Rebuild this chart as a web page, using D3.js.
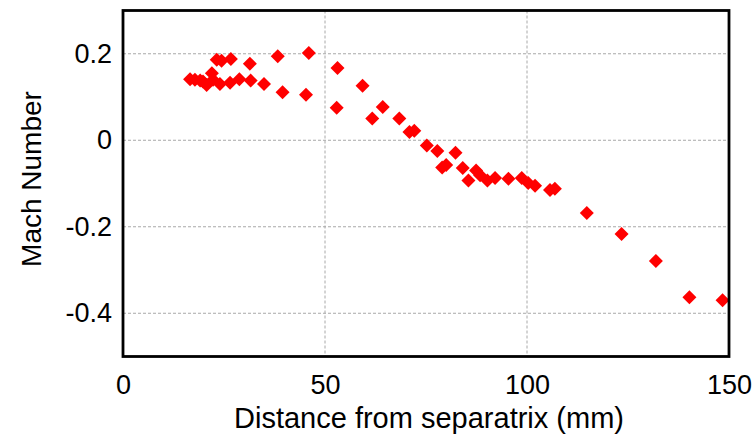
<!DOCTYPE html>
<html>
<head>
<meta charset="utf-8">
<script src="https://cdn.jsdelivr.net/npm/d3@7"></script>
<style>
  html, body { margin: 0; padding: 0; background: #fff; }
  svg { display: block; }
  text { font-family: "Liberation Sans", Arial, sans-serif; fill: #000; }
</style>
</head>
<body>
<svg id="chart" width="755" height="434"></svg>
<script>
// Data
const distance = [16.6, 17.8, 19.1, 19.8, 20.7, 22.0, 22.3, 24.0, 26.5, 28.8, 31.6, 34.9, 39.5, 45.3, 52.9,
                  23.2, 24.4, 26.7, 31.4, 38.3, 46.0, 53.1, 59.3, 64.3, 61.7, 68.4, 70.9, 72.1, 75.2, 77.8,
                  82.3, 80.0, 79.0, 84.1, 87.4, 85.5, 88.4, 90.2, 92.1, 95.4, 98.7, 100.3, 102.0, 105.7,
                  106.9, 114.8, 123.4, 131.9, 140.2, 148.4];
const mach = [0.141, 0.140, 0.138, 0.136, 0.128, 0.155, 0.140, 0.130, 0.133, 0.141, 0.138, 0.130, 0.111, 0.105, 0.075,
              0.186, 0.184, 0.188, 0.177, 0.194, 0.202, 0.167, 0.126, 0.077, 0.050, 0.050, 0.019, 0.022, -0.012, -0.025,
              -0.029, -0.057, -0.063, -0.064, -0.070, -0.093, -0.081, -0.093, -0.087, -0.089, -0.087, -0.099, -0.105, -0.115,
              -0.112, -0.168, -0.217, -0.279, -0.363, -0.370];
const xTicks = [0, 50, 100, 150];
const yTicks = [-0.4, -0.2, 0, 0.2];
const yTickLabels = ["-0.4", "-0.2", "0", "0.2"];
const xDomain = [0, 150];
const yDomain = [-0.5, 0.3];
const xLabel = "Distance from separatrix (mm)";
const yLabel = "Mach Number";

const svg = d3.select("#chart");
const mLeft = 123, mRight = 729, mTop = 10.5, mBottom = 356.5;

const x = d3.scaleLinear().domain(xDomain).range([mLeft, mRight]);
const y = d3.scaleLinear().domain(yDomain).range([mBottom, mTop]);

// Grid lines (dashed)
const grid = svg.append("g").attr("class", "grid");
grid.selectAll("line.gx").data(xTicks.filter(d => d > xDomain[0] && d < xDomain[1]))
  .enter().append("line")
  .attr("x1", d => x(d)).attr("x2", d => x(d))
  .attr("y1", mTop).attr("y2", mBottom)
  .attr("stroke", "#a8a8a8").attr("stroke-width", 1).attr("stroke-dasharray", "3,2");
grid.selectAll("line.gy").data(yTicks)
  .enter().append("line")
  .attr("x1", mLeft).attr("x2", mRight)
  .attr("y1", d => y(d)).attr("y2", d => y(d))
  .attr("stroke", "#a8a8a8").attr("stroke-width", 1).attr("stroke-dasharray", "3,2");

// Points
const sym = d3.symbol().type(d3.symbolSquare).size(98);
svg.append("g").selectAll("path")
  .data(distance.map((d, i) => [d, mach[i]]))
  .enter().append("path")
  .attr("d", sym)
  .attr("transform", d => `translate(${x(d[0])},${y(d[1])}) rotate(45)`)
  .attr("fill", "#ff0000");

// Frame
svg.append("rect")
  .attr("x", mLeft).attr("y", mTop)
  .attr("width", mRight - mLeft).attr("height", mBottom - mTop)
  .attr("fill", "none").attr("stroke", "#000").attr("stroke-width", 2.8);

// Axes (tick labels only)
const xAxis = d3.axisBottom(x).tickValues(xTicks).tickSize(0).tickPadding(18).tickFormat(d3.format("d"));
const gx = svg.append("g").attr("transform", `translate(0,${mBottom})`).call(xAxis);
gx.select(".domain").remove();
gx.selectAll("text").style("font-size", "27px").style("font-family", "'Liberation Sans', Arial, sans-serif").attr("fill", "#000");

const yAxis = d3.axisLeft(y).tickValues(yTicks).tickSize(0).tickPadding(11)
  .tickFormat((d, i) => yTickLabels[i]);
const gy = svg.append("g").attr("transform", `translate(${mLeft},0)`).call(yAxis);
gy.select(".domain").remove();
gy.selectAll("text").style("font-size", "27px").style("font-family", "'Liberation Sans', Arial, sans-serif").attr("fill", "#000");

// Axis labels
svg.append("text")
  .attr("x", 429).attr("y", 428)
  .attr("text-anchor", "middle")
  .style("font-size", "29px")
  .text(xLabel);

svg.append("text")
  .attr("transform", "translate(41,179) rotate(-90)")
  .attr("text-anchor", "middle")
  .style("font-size", "28px")
  .text(yLabel);
</script>
</body>
</html>
